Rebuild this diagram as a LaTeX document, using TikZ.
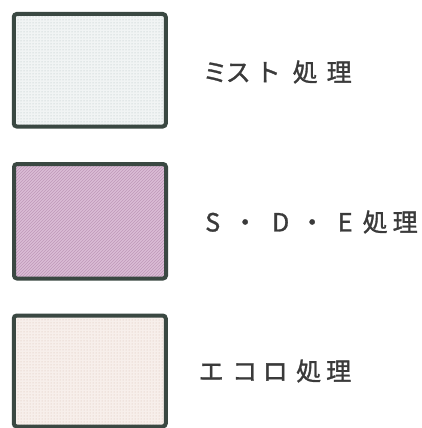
\documentclass[tikz,border=0pt]{standalone}
\usepackage{fontspec}
\newfontfamily\jp[FakeBold=1.2]{Noto Sans CJK JP}
\usetikzlibrary{patterns}
\definecolor{edge}{HTML}{3A4842}
\definecolor{txt}{HTML}{3A3A3A}
\definecolor{mistbg}{HTML}{F1F4F4}
\definecolor{mistdot}{HTML}{AFC0C0}
\definecolor{sdebg}{HTML}{DBBDD6}
\definecolor{sdeln}{HTML}{BE98B8}
\definecolor{ecobg}{HTML}{F7EFEB}
\definecolor{ecodot}{HTML}{D8BCB2}
\newcommand\cjkc[1]{\makebox[0pt]{#1}}
\begin{document}
\begin{tikzpicture}[x=1pt,y=-1pt,
  swatch/.style={draw=edge, line width=4pt, rounded corners=3pt, minimum width=152pt, inner sep=0pt, outer sep=0pt},
  lbl/.style={anchor=west, inner sep=0pt, text=txt, font=\jp\fontsize{25}{30}\selectfont}]
\useasboundingbox[fill=white] (0,0) rectangle (422,428);
\node[swatch, minimum height=112.5pt, preaction={fill=mistbg}, pattern=dots, pattern color=mistdot] (mist) at (89.75,70.25) {};
\node[swatch, minimum height=114.5pt, preaction={fill=sdebg}, pattern=north east lines, pattern color=sdeln] (sde) at (90,221.25) {};
\node[swatch, minimum height=111pt, preaction={fill=ecobg}, pattern=dots, pattern color=ecodot] (eco) at (89.75,371) {};
\node[lbl] (mistlbl) at (215,72) {\cjkc{ミ}\hspace{23pt}\cjkc{ス}\hspace{30pt}\cjkc{ト}\hspace{37pt}\cjkc{処}\hspace{34pt}\cjkc{理}};
\node[lbl] (sdelbl) at (212.5,222) {\cjkc{S}\hspace{32.5pt}\cjkc{・}\hspace{35.5pt}\cjkc{D}\hspace{31.5pt}\cjkc{・}\hspace{33pt}\cjkc{E}\hspace{30pt}\cjkc{処}\hspace{30pt}\cjkc{理}};
\node[lbl] (ecolbl) at (211,371) {\cjkc{エ}\hspace{33.5pt}\cjkc{コ}\hspace{30.5pt}\cjkc{ロ}\hspace{33.5pt}\cjkc{処}\hspace{30pt}\cjkc{理}};
\end{tikzpicture}
\end{document}
